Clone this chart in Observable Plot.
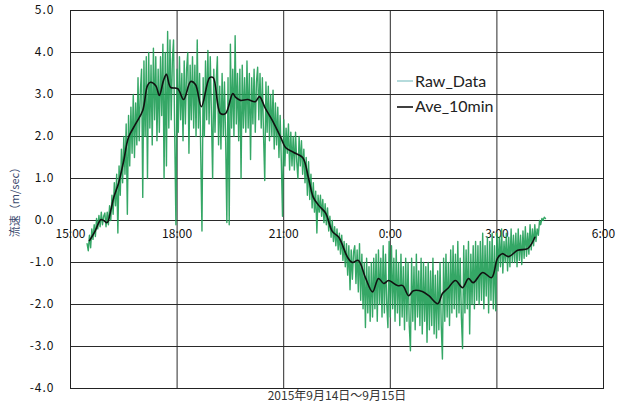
<!DOCTYPE html>
<html><head><meta charset="utf-8">
<script src="https://cdn.jsdelivr.net/npm/d3@7"></script>
<script src="https://cdn.jsdelivr.net/npm/@observablehq/plot@0.6"></script>
<style>body{margin:0;background:#fff;}</style>
</head><body><div id="chart"></div>
<script>
const yTicks = [-4, -3, -2, -1, 0, 1, 2, 3, 4, 5];
const xTickTimes = ["15:00", "18:00", "21:00", "00:00", "03:00", "06:00"];
const xTickLabels = ["15:00", "18:00", "21:00", "0:00", "3:00", "6:00"];
const yLabel = "流速（m/sec）";
const xTitle = "2015年9月14日～9月15日";
const seriesNames = ["Raw_Data", "Ave_10min"];

// raw samples, every 2 minutes from 15:28
const rawStart = "15:28";
const rawStepMin = 2;
const rawValues = [
  -0.55,-0.72,-0.35,-0.65,-0.2,-0.45,-0.1,-0.38,0.05,-0.2,0.12,-0.15,0.2,-0.1,0.1,0.18,
  -0.15,0.2,-0.1,0.35,0.0,0.6,0.15,0.9,0.35,1.1,-0.3,1.3,0.6,1.7,0.9,
  2.0,1.1,2.3,0.15,2.5,1.3,2.7,1.6,3.0,1.5,2.8,1.8,3.4,1.9,3.1,
  3.6,0.55,3.8,2.0,3.9,1.0,4.0,2.2,3.7,1.8,4.1,2.4,3.9,1.9,3.6,
  2.1,3.9,2.5,4.2,1.0,4.0,1.3,4.5,2.2,4.3,2.4,3.8,4.3,2.0,-0.1,
  3.6,2.1,3.9,2.4,3.5,1.9,3.8,2.3,3.6,4.0,1.6,3.7,2.4,3.9,2.2,
  3.7,2.0,4.3,2.2,3.5,1.5,-0.25,3.4,2.0,3.8,2.4,4.05,2.3,3.9,2.5,
  1.0,3.6,2.1,3.3,3.9,1.8,3.2,1.7,3.5,2.0,3.3,1.9,-0.05,3.4,-0.1,
  4.2,2.2,3.6,2.0,4.4,2.3,3.5,1.9,3.6,1.0,3.7,2.2,3.4,2.1,3.8,
  2.2,3.5,1.45,3.4,2.3,3.6,2.1,3.3,3.65,2.4,3.5,2.2,3.4,2.0,0.95,
  3.3,2.1,3.2,1.9,3.0,2.0,3.1,1.7,2.8,1.8,2.7,1.5,2.5,1.4,0.1,
  2.4,1.3,2.2,1.6,2.3,1.2,2.1,1.3,2.0,1.2,2.1,1.4,1.0,2.0,1.3,
  1.9,1.1,1.7,0.9,1.5,0.6,1.4,0.5,1.1,0.3,0.9,0.2,0.7,-0.3,0.6,
  0.2,0.6,0.1,0.5,-0.05,0.4,-0.1,0.3,-0.25,0.1,-0.4,0.0,-0.5,-0.15,-0.6,
  -0.2,-0.7,-0.3,-0.8,-0.35,-0.95,-0.5,-1.1,-0.55,-1.3,-0.6,-1.65,-0.7,-1.4,-0.75,
  -0.6,-1.5,-0.7,-1.7,-0.55,-1.9,-0.8,-2.1,-1.0,-2.55,-0.9,-2.2,-1.1,-2.4,-1.0,
  -2.3,-0.9,-2.1,-0.8,-2.4,-0.7,-2.0,-0.9,-2.3,-0.6,-2.2,-0.8,-2.0,-2.55,-0.5,
  -2.3,-0.6,-2.1,-0.9,-2.4,-0.7,-2.2,-1.0,-2.5,-0.8,-2.3,-1.1,-2.6,-0.9,-2.4,
  -1.0,-2.5,-3.1,-0.9,-2.4,-1.1,-2.6,-0.8,-2.3,-1.2,-2.5,-0.9,-2.7,-1.0,-2.4,
  -1.1,-2.9,-1.0,-2.6,-1.2,-2.5,-0.9,-2.7,-1.3,-2.8,-1.2,-2.6,-1.0,-2.5,-3.3,
  -0.9,-2.4,-0.8,-2.3,-1.0,-2.5,-0.7,-2.2,-0.6,-2.1,-0.8,-2.3,-0.5,-2.2,-0.9,
  -2.3,-3.05,-0.6,-2.2,-0.7,-2.1,-0.5,-2.7,-0.8,-2.0,-0.6,-2.1,-0.5,-1.9,-0.6,
  -2.0,-0.5,-1.9,-0.3,-2.1,-0.6,-1.8,-0.4,-2.2,-0.5,-1.9,-0.3,-2.1,-0.6,-2.15,
  -0.3,-1.2,-0.4,-1.1,-0.2,-1.25,-0.5,-1.0,-0.3,-1.2,-0.4,-1.1,-0.2,-1.0,-0.35,
  -1.0,-0.3,-1.1,-0.2,-0.95,-0.35,-1.05,-0.25,-0.9,-0.15,-0.85,-0.3,-0.8,-0.1,-0.7,
  -0.2,-0.6,-0.1,-0.5,-0.2,-0.35,0.0,-0.1,0.05,0.0,0.08,0.05
];

const avgTimes = [
  "15:32","15:42","15:51","15:56","16:02","16:08","16:13","16:21","16:30","16:38",
  "16:50","17:02","17:10","17:15","17:24","17:30","17:37","17:42","17:49","18:01",
  "18:11","18:23","18:31","18:41","18:55","19:01","19:13","19:22","19:34","19:39",
  "19:47","19:59","20:12","20:19","20:29","20:41","20:55","21:03","21:17","21:32",
  "21:42","21:50","21:59","22:11","22:22","22:33","22:48","22:56","23:06","23:18",
  "23:30","23:40","23:49","23:57","00:12","00:21","00:31","00:39","00:54","01:05",
  "01:20","01:28","01:37","01:50","02:02","02:12","02:20","02:36","02:51","03:01",
  "03:09","03:20","03:35","03:52","04:00","04:04"
];
const avgValues = [
  -0.48,-0.24,0.02,0.0,-0.05,0.24,0.55,0.88,1.43,1.98,
  2.3,2.62,3.21,3.29,3.21,2.98,3.33,3.48,3.17,3.14,
  2.88,3.31,3.24,2.71,3.4,3.4,2.55,2.55,3.02,2.93,
  2.86,2.88,2.83,2.95,2.67,2.38,1.98,1.74,1.62,1.5,
  1.0,0.55,0.36,0.17,-0.26,-0.4,-0.88,-1.0,-0.95,-1.36,
  -1.70,-1.38,-1.5,-1.43,-1.55,-1.55,-1.79,-1.67,-1.69,-1.79,
  -1.98,-1.74,-1.62,-1.43,-1.6,-1.38,-1.48,-1.24,-1.36,-0.9,
  -0.79,-0.86,-0.71,-0.67,-0.52,-0.40
];

function toDate(s) {
  const [h, m] = s.split(":").map(Number);
  return new Date(Date.UTC(2015, 8, h >= 12 ? 14 : 15, h, m));
}
const t0 = toDate(rawStart).getTime();
const raw = rawValues.map((v, i) => ({t: new Date(t0 + i * rawStepMin * 60000), v}));
const avg = avgTimes.map((s, i) => ({t: toDate(s), v: avgValues[i]}));
const xTicks = xTickTimes.map((s, i) => ({t: toDate(s), label: xTickLabels[i]}));

const plot = Plot.plot({
  width: 626, height: 412,
  marginLeft: 70, marginRight: 23, marginTop: 10, marginBottom: 24,
  x: {type: "utc", domain: [toDate("15:00"), toDate("06:00")], axis: null},
  y: {domain: [-4, 5], axis: null},
  style: {fontFamily: "'Noto Sans CJK JP', sans-serif", fontSize: "12px", background: "#fff", color: "#111"},
  marks: [
    Plot.text(xTicks, {x: "t", y: 0, text: "label", dy: 13.5, fontSize: 12, fill: "#111"}),
    Plot.ruleY(yTicks, {stroke: "#2a2a2a", strokeWidth: 1}),
    Plot.ruleX(xTicks, {x: "t", stroke: "#2a2a2a", strokeWidth: 1}),
    Plot.line(raw, {x: "t", y: "v", stroke: "#1f9d55", strokeWidth: 1.4, strokeOpacity: 0.9}),
    Plot.line(avg, {x: "t", y: "v", stroke: "#111", strokeWidth: 1.6, curve: "catmull-rom"}),
    Plot.frame({stroke: "#222"}),
    Plot.axisY(yTicks, {tickSize: 0, tickPadding: 16, tickFormat: d => d.toFixed(1), fontSize: 12, fill: "#111", label: null}),
    Plot.text([yLabel], {frameAnchor: "left", dx: -55, rotate: -90, textAnchor: "middle", fontSize: 11, fill: "#3a4a6e"}),
    Plot.text([xTitle], {frameAnchor: "bottom", dy: 11, textAnchor: "middle", fontSize: 12, fill: "#333"})
  ]
});

const svg = d3.select(plot);
svg.selectAll('g[aria-label="y-axis tick label"] text').attr("letter-spacing", "1px");
const lg = svg.append("g").attr("font-family", "Lato, 'Open Sans', sans-serif").attr("font-size", 16).attr("fill", "#222").attr("text-anchor", "start");
lg.append("line").attr("x1", 397).attr("x2", 413).attr("y1", 81).attr("y2", 81).attr("stroke", "#9ccfd0").attr("stroke-width", 1.5);
lg.append("text").attr("x", 415).attr("y", 87).text(seriesNames[0]);
lg.append("line").attr("x1", 397).attr("x2", 413).attr("y1", 107).attr("y2", 107).attr("stroke", "#111").attr("stroke-width", 1.6);
lg.append("text").attr("x", 415).attr("y", 112).text(seriesNames[1]);

document.getElementById("chart").appendChild(plot);
</script>
</body></html>
